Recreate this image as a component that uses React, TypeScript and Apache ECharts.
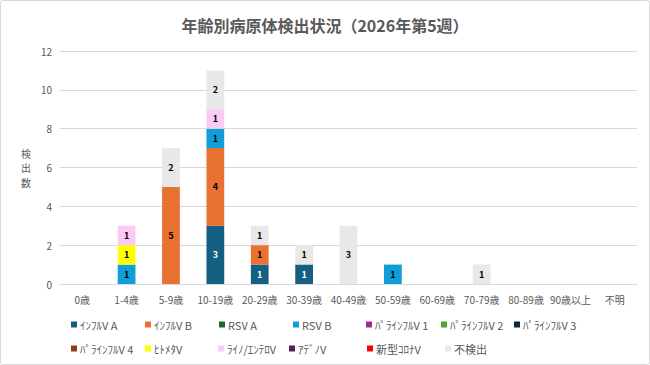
import React, { useEffect, useRef } from "react";
import * as echarts from "echarts";

const categories = ["0歳", "1-4歳", "5-9歳", "10-19歳", "20-29歳", "30-39歳", "40-49歳", "50-59歳", "60-69歳", "70-79歳", "80-89歳", "90歳以上", "不明"];

const seriesNames = ["ｲﾝﾌﾙV A", "ｲﾝﾌﾙV B", "RSV A", "RSV B", "ﾊﾟﾗｲﾝﾌﾙV 1", "ﾊﾟﾗｲﾝﾌﾙV 2", "ﾊﾟﾗｲﾝﾌﾙV 3", "ﾊﾟﾗｲﾝﾌﾙV 4", "ﾋﾄﾒﾀV", "ﾗｲﾉ/ｴﾝﾃﾛV", "ｱﾃﾞﾉV", "新型ｺﾛﾅV", "不検出"];

const fluA = [0, 0, 0, 3, 1, 1, 0, 0, 0, 0, 0, 0, 0];
const fluB = [0, 0, 5, 4, 1, 0, 0, 0, 0, 0, 0, 0, 0];
const rsvA = [0, 0, 0, 0, 0, 0, 0, 0, 0, 0, 0, 0, 0];
const rsvB = [0, 1, 0, 1, 0, 0, 0, 1, 0, 0, 0, 0, 0];
const para1 = [0, 0, 0, 0, 0, 0, 0, 0, 0, 0, 0, 0, 0];
const para2 = [0, 0, 0, 0, 0, 0, 0, 0, 0, 0, 0, 0, 0];
const para3 = [0, 0, 0, 0, 0, 0, 0, 0, 0, 0, 0, 0, 0];
const para4 = [0, 0, 0, 0, 0, 0, 0, 0, 0, 0, 0, 0, 0];
const hmpv = [0, 1, 0, 0, 0, 0, 0, 0, 0, 0, 0, 0, 0];
const rhinoEntero = [0, 1, 0, 1, 0, 0, 0, 0, 0, 0, 0, 0, 0];
const adeno = [0, 0, 0, 0, 0, 0, 0, 0, 0, 0, 0, 0, 0];
const covid = [0, 0, 0, 0, 0, 0, 0, 0, 0, 0, 0, 0, 0];
const notDetected = [0, 0, 2, 2, 1, 1, 3, 0, 0, 1, 0, 0, 0];

const seriesData = [fluA, fluB, rsvA, rsvB, para1, para2, para3, para4, hmpv, rhinoEntero, adeno, covid, notDetected];

const colors = ["#156082", "#E97132", "#196B24", "#0F9ED5", "#A02B93", "#4EA72E", "#0E2841", "#8F3D16", "#FFFF00", "#FBCBF6", "#5A1E58", "#FF0000", "#E8E8E8"];

const legendPos = [
  [71, 326], [145, 326], [219, 326], [293, 326], [366, 326], [441, 326], [514, 326],
  [71, 350], [145, 350], [218, 350], [289, 350], [367, 350], [445, 350],
];

const FONT = "'Noto Sans CJK JP', 'Noto Sans', sans-serif";

export default function App() {
  const ref = useRef<HTMLDivElement>(null);
  useEffect(() => {
    if (!ref.current) return;
    const chart = echarts.init(ref.current, null, { renderer: "svg" });
    const option = {
      animation: false,
      textStyle: { fontFamily: FONT },
      title: {
        text: "年齢別病原体検出状況（2026年第5週）",
        left: "center",
        top: 12,
        textStyle: { fontFamily: FONT, fontSize: 16, fontWeight: "bold", color: "#595959" },
      },
      graphic: [
        {
          type: "rect",
          shape: { x: 0.5, y: 0.5, width: 649, height: 364, r: 2 },
          style: { fill: "none", stroke: "#D9D9D9", lineWidth: 1 },
          silent: true,
        },
      ],
      legend: seriesNames.map((n, i) => ({
        data: [n],
        left: legendPos[i][0],
        top: legendPos[i][1] - 7,
        padding: 0,
        icon: "rect",
        itemWidth: 6,
        itemHeight: 6,
        selectedMode: false,
        textStyle: { fontFamily: FONT, fontSize: 11, color: "#595959", padding: [0, 0, 0, -2] },
      })),
      grid: { left: 60, right: 13, top: 51, bottom: 81 },
      xAxis: {
        type: "category",
        data: categories,
        axisLine: { show: true, lineStyle: { color: "#D9D9D9" } },
        axisTick: { show: false },
        axisLabel: { fontFamily: FONT, fontSize: 10, color: "#595959", margin: 10, interval: 0 },
      },
      yAxis: {
        type: "value",
        min: 0,
        max: 12,
        interval: 2,
        name: "検\n出\n数",
        nameLocation: "middle",
        nameRotate: 0,
        nameGap: 29,
        nameTextStyle: { fontFamily: FONT, fontSize: 10, color: "#595959", lineHeight: 14.5 },
        axisLine: { show: false },
        axisTick: { show: false },
        axisLabel: { fontFamily: FONT, fontSize: 10, color: "#595959", margin: 8 },
        splitLine: { lineStyle: { color: "#D9D9D9", width: 1 } },
      },
      series: seriesNames.map((n, i) => ({
        name: n,
        type: "bar",
        stack: "total",
        barWidth: "40%",
        data: seriesData[i],
        itemStyle: { color: colors[i] },
        label: {
          show: true,
          position: "inside",
          fontFamily: FONT,
          fontSize: 9,
          fontWeight: "bold",
          color: i === 0 ? "#FFFFFF" : "#000000",
          formatter: (p: any) => (p.value ? String(p.value) : ""),
        },
      })),
    };
    chart.setOption(option as any);
    return () => chart.dispose();
  }, []);
  return <div ref={ref} style={{ position: "fixed", left: 0, top: 0, width: 650, height: 365, background: "#fff" }} />;
}
